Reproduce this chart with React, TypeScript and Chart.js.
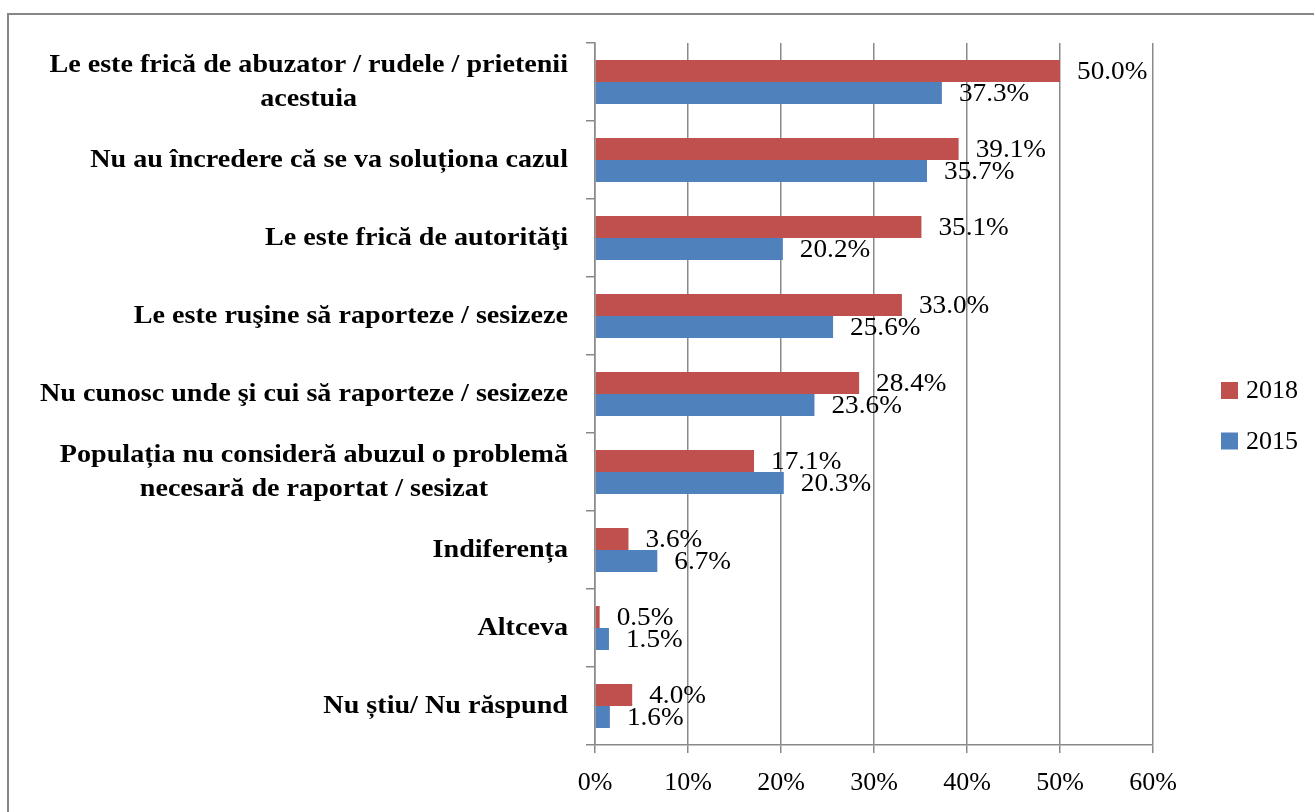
import React, { useEffect, useRef } from "react";
import { Chart, registerables } from "chart.js";

Chart.register(...registerables);

const categories: (string | string[])[] = [
  ["Le este frică de abuzator / rudele / prietenii", "acestuia"],
  "Nu au încredere că se va soluționa cazul",
  "Le este frică de autorităţi",
  "Le este ruşine să raporteze / sesizeze",
  "Nu cunosc unde şi cui să raporteze / sesizeze",
  ["Populația nu consideră abuzul o problemă", "necesară de raportat / sesizat"],
  "Indiferența",
  "Altceva",
  "Nu știu/ Nu răspund",
];

const series2018 = [50.0, 39.1, 35.1, 33.0, 28.4, 17.1, 3.6, 0.5, 4.0];
const series2015 = [37.3, 35.7, 20.2, 25.6, 23.6, 20.3, 6.7, 1.5, 1.6];

const seriesNames = ["2018", "2015"];
const seriesColors = ["#C0504D", "#4F81BD"];

const FONT = "'Liberation Serif', 'Times New Roman', serif";
const GRID = "#898989";

function drawText(ctx: any, text: string, x: number, y: number, align: string, sx: number) {
  ctx.save();
  ctx.translate(x, y);
  ctx.scale(sx, 1);
  ctx.textAlign = align;
  ctx.fillText(text, 0, 0);
  ctx.restore();
}

const valueLabels = {
  id: "valueLabels",
  afterDatasetsDraw(chart: any) {
    const ctx = chart.ctx;
    ctx.save();
    ctx.font = `25px ${FONT}`;
    ctx.fillStyle = "#000";
    ctx.textBaseline = "middle";
    chart.data.datasets.forEach((ds: any, di: number) => {
      const meta = chart.getDatasetMeta(di);
      meta.data.forEach((el: any, i: number) => {
        const v = ds.data[i];
        drawText(ctx, v.toFixed(1) + "%", el.x + 17, el.y + 1.5, "left", 1.09);
      });
    });
    ctx.restore();
  },
};

const categoryLabels = {
  id: "categoryLabels",
  afterDraw(chart: any) {
    const ctx = chart.ctx;
    const y = chart.scales.y;
    const right = chart.chartArea.left - 27;
    const sx = 1.125;
    ctx.save();
    ctx.font = `bold 25px ${FONT}`;
    ctx.fillStyle = "#000";
    ctx.textBaseline = "middle";
    categories.forEach((lab, i) => {
      const lines = Array.isArray(lab) ? lab : [lab];
      const w = Math.max(...lines.map((l) => ctx.measureText(l).width)) * sx;
      const cx = right - w / 2;
      const cy = y.getPixelForValue(i);
      lines.forEach((l, j) => {
        drawText(ctx, l, cx, cy + (j - (lines.length - 1) / 2) * 34 + 1, "center", sx);
      });
    });
    ctx.restore();
  },
};

const legendPlugin = {
  id: "customLegend",
  afterDraw(chart: any) {
    const ctx = chart.ctx;
    const area = chart.chartArea;
    const mid = (area.top + area.bottom) / 2;
    const bx = area.right + 68;
    const ys = [mid - 3.5, mid + 47];
    ctx.save();
    ctx.font = `25px ${FONT}`;
    ctx.textBaseline = "middle";
    seriesNames.forEach((n, i) => {
      ctx.fillStyle = seriesColors[i];
      ctx.fillRect(bx, ys[i] - 8.5, 17, 17);
      ctx.fillStyle = "#000";
      drawText(ctx, n, bx + 25, ys[i] + 1, "left", 1.04);
    });
    ctx.restore();
  },
};

export default function App() {
  const ref = useRef<HTMLCanvasElement | null>(null);

  useEffect(() => {
    if (!ref.current) return;
    const chart = new Chart(ref.current, {
      type: "bar",
      data: {
        labels: categories as any,
        datasets: [
          {
            label: seriesNames[0],
            data: series2018,
            backgroundColor: seriesColors[0],
            barPercentage: 1,
            categoryPercentage: 0.564,
          },
          {
            label: seriesNames[1],
            data: series2015,
            backgroundColor: seriesColors[1],
            barPercentage: 1,
            categoryPercentage: 0.564,
          },
        ],
      },
      options: {
        indexAxis: "y",
        responsive: false,
        maintainAspectRatio: false,
        animation: false,
        layout: { padding: { left: 0, right: 161, top: 43, bottom: 0 } },
        plugins: {
          legend: { display: false },
          tooltip: { enabled: false },
          title: { display: false },
        },
        scales: {
          x: {
            min: 0,
            max: 60,
            ticks: {
              stepSize: 10,
              callback: (v: any) => v + "%",
              font: { family: FONT, size: 26 },
              color: "#000",
              padding: 15,
            },
            grid: { color: GRID, lineWidth: 1.5, tickLength: 8 },
            border: { color: GRID, width: 1.5 },
            afterFit: (s: any) => {
              s.height = 812 - 745;
            },
          },
          y: {
            type: "category",
            ticks: {
              color: "rgba(0,0,0,0)",
              font: { family: FONT, size: 12 },
            },
            grid: {
              offset: true,
              drawOnChartArea: false,
              color: GRID,
              lineWidth: 1.5,
              tickLength: 9,
            },
            border: { color: GRID, width: 1.5 },
            afterFit: (s: any) => {
              s.width = 595;
            },
          },
        },
      },
      plugins: [valueLabels, categoryLabels, legendPlugin],
    });
    return () => chart.destroy();
  }, []);

  return (
    <div
      style={{
        position: "absolute",
        left: 0,
        top: 0,
        width: 1314,
        height: 812,
        overflow: "hidden",
        background: "#fff",
      }}
    >
      <div
        style={{
          position: "absolute",
          left: 7,
          top: 13,
          width: 1400,
          height: 900,
          border: "2px solid #878787",
          boxSizing: "border-box",
        }}
      />
      <canvas
        ref={ref}
        width={1314}
        height={812}
        style={{ position: "absolute", left: 0, top: 0, width: 1314, height: 812 }}
      />
    </div>
  );
}
